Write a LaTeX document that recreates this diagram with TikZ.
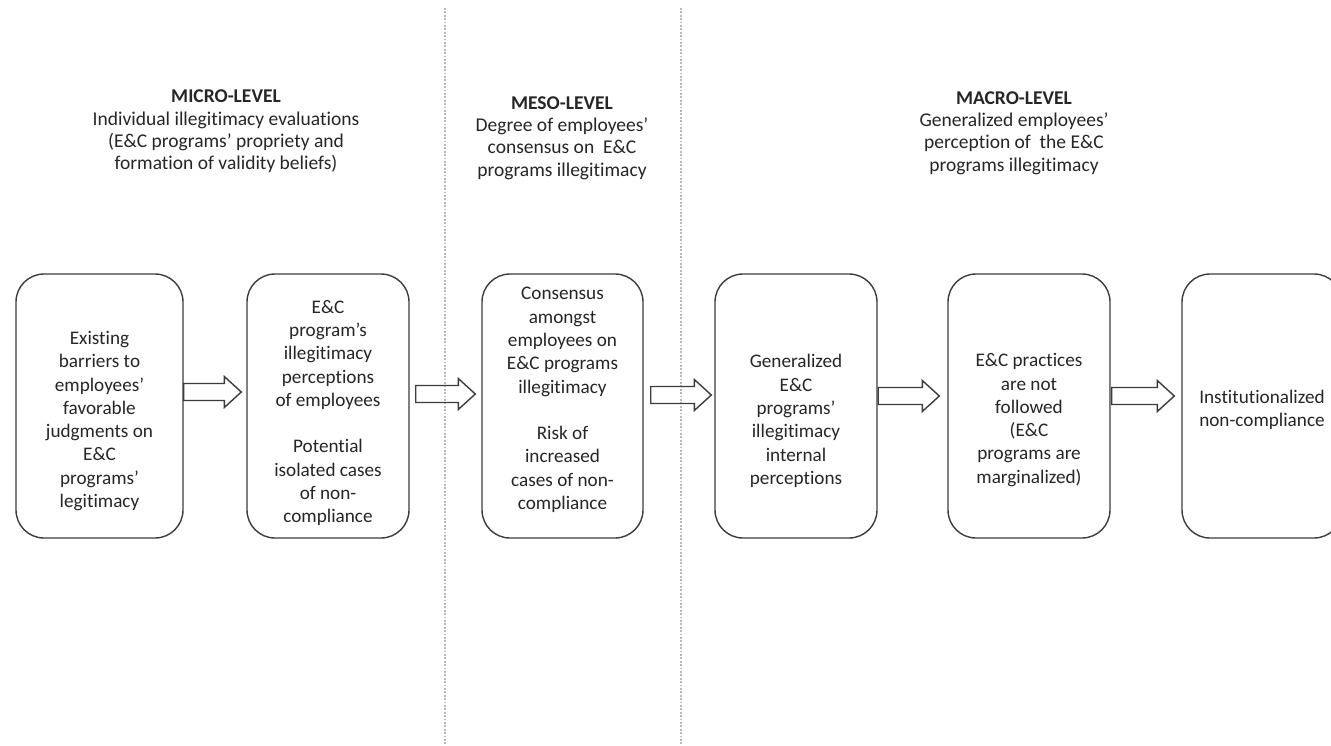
\documentclass[tikz,border=0pt]{standalone}
\usepackage{fontspec}
\setmainfont{Carlito}[RawFeature=-liga, RawFeature=-clig, RawFeature=-calt, RawFeature=-dlig]
\usetikzlibrary{calc}

\definecolor{ink}{HTML}{262626}
\definecolor{edge}{HTML}{3C3C3C}
\definecolor{sep}{HTML}{B8B8B8}

\tikzset{
  stagebox/.style={draw=edge, line width=1.4pt, rounded corners=28pt, inner sep=0pt},
  stagetext/.style={align=center, text=ink, font=\fontsize{19.2}{23.3}\selectfont, inner sep=0pt},
  levelhead/.style={align=center, text=ink, font=\fontsize{19.5}{22.4}\selectfont, inner sep=0pt},
  flowarrow/.style={draw=edge, line width=1.4pt, line join=miter},
  divider/.style={draw=sep, line width=1.8pt, dash pattern=on 1.8pt off 1.6pt}
}

% block arrow from node #1 to node #2; #3/#4 gaps at tail/tip, #5 vertical position
\newcommand{\stagearrow}[5]{%
  \draw[flowarrow] let \p1=(#1.east), \p2=(#2.west) in
    (\x1+#3, -#5+8.5pt) -- (\x2-#4-17pt, -#5+8.5pt) -- (\x2-#4-17pt, -#5+15.5pt)
    -- (\x2-#4, -#5) -- (\x2-#4-17pt, -#5-15.5pt) -- (\x2-#4-17pt, -#5-8.5pt)
    -- (\x1+#3, -#5-8.5pt) -- cycle;}

\begin{document}
\begin{tikzpicture}[x=1pt, y=-1pt]
  \clip (0,0) rectangle (1331,745);
  \fill[white] (0,0) rectangle (1331,745);

  % level dividers
  \draw[divider] (445,8) -- (445,745);
  \draw[divider] (681,8) -- (681,745);

  % level headings
  \node[levelhead] (micro) at (226,131.5)
    {\textbf{MICRO-LEVEL}\\Individual illegitimacy evaluations\\(E\&C programs’ propriety and\\formation of validity beliefs)};
  \node[levelhead] (meso) at (562,138)
    {\textbf{MESO-LEVEL}\\Degree of employees’\\consensus on\ \ E\&C\\programs illegitimacy};
  \node[levelhead] (macro) at (1014,133)
    {\textbf{MACRO-LEVEL}\\Generalized employees’\\perception of\ \ the E\&C\\programs illegitimacy};

  % process stages
  \node[stagebox, minimum width=167pt, minimum height=264pt] (b1) at (99.5,406) {};
  \node[stagebox, minimum width=162pt, minimum height=264pt] (b2) at (328,406) {};
  \node[stagebox, minimum width=161pt, minimum height=264pt] (b3) at (562.5,406) {};
  \node[stagebox, minimum width=162pt, minimum height=264pt] (b4) at (796,406) {};
  \node[stagebox, minimum width=162pt, minimum height=264pt] (b5) at (1029,406) {};
  \node[stagebox, minimum width=160pt, minimum height=264pt] (b6) at (1262,406) {};

  \node[stagetext] (t1) at (99.5,421)
    {Existing\\barriers to\\employees’\\favorable\\judgments on\\E\&C\\programs’\\legitimacy};
  \node[stagetext] (t2) at (328,413)
    {E\&C\\program’s\\illegitimacy\\perceptions\\of employees\\[23.3pt]Potential\\isolated cases\\of non-\\compliance};
  \node[stagetext] (t3) at (562.5,400)
    {Consensus\\amongst\\employees on\\E\&C programs\\illegitimacy\\[23.3pt]Risk of\\increased\\cases of non-\\compliance};
  \node[stagetext] (t4) at (796,421)
    {Generalized\\E\&C\\programs’\\illegitimacy\\internal\\perceptions};
  \node[stagetext] (t5) at (1029,420)
    {E\&C practices\\are not\\followed\\(E\&C\\programs are\\marginalized)};
  \node[stagetext] (t6) at (1262,410)
    {Institutionalized\\non-compliance};

  % connecting block arrows
  \stagearrow{b1}{b2}{0pt}{5pt}{392pt}
  \stagearrow{b2}{b3}{6pt}{6pt}{394pt}
  \stagearrow{b3}{b4}{7pt}{3pt}{395pt}
  \stagearrow{b4}{b5}{0.5pt}{8pt}{396pt}
  \stagearrow{b5}{b6}{1pt}{7pt}{396pt}
\end{tikzpicture}
\end{document}
